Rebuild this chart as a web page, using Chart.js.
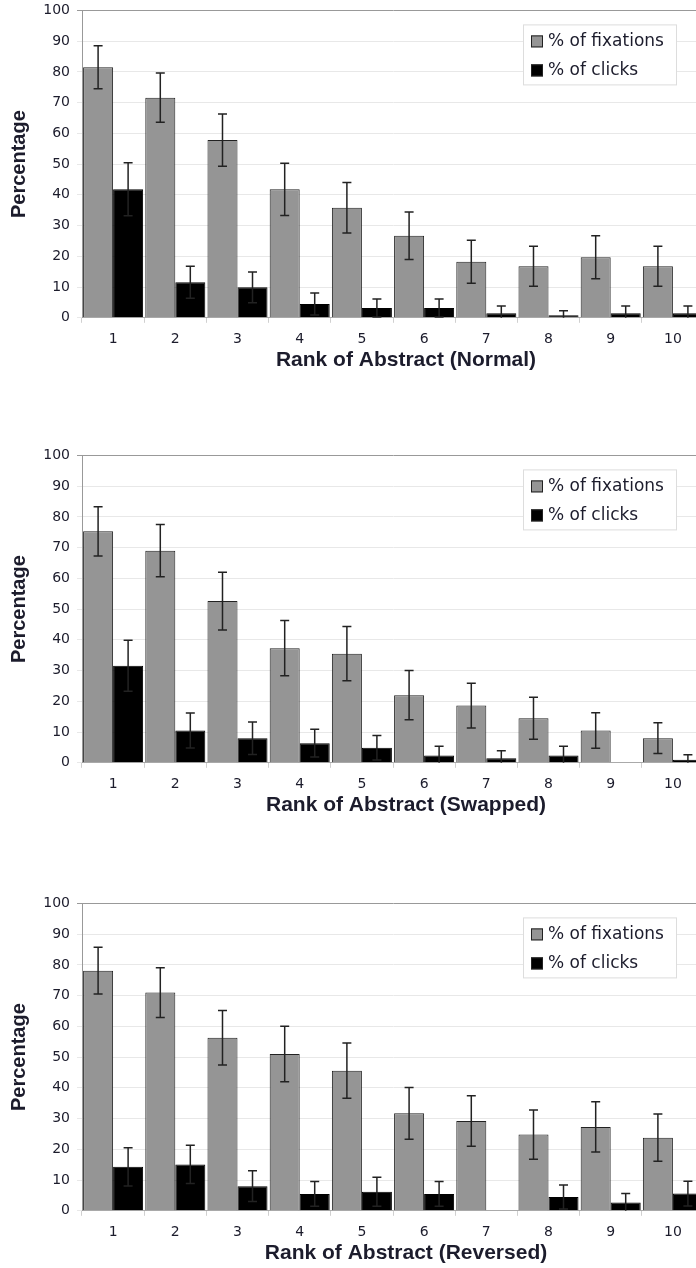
<!DOCTYPE html>
<html>
<head>
<meta charset="utf-8">
<script src="https://cdn.jsdelivr.net/npm/chart.js@4.4.0/dist/chart.umd.min.js"></script>
<style>
  html, body { margin: 0; padding: 0; background: #fff; overflow: hidden; width: 696px; height: 1268px; }
  .panel { position: absolute; left: 0; width: 812px; height: 386px; }
</style>
</head>
<body>
<div class="panel" style="top:-5px"><canvas id="chartNormal" width="812" height="386"></canvas></div>
<div class="panel" style="top:440px"><canvas id="chartSwapped" width="812" height="386"></canvas></div>
<div class="panel" style="top:888px"><canvas id="chartReversed" width="812" height="386"></canvas></div>
<script>
const ranks = ['1', '2', '3', '4', '5', '6', '7', '8', '9', '10'];
const yTicks = [0, 10, 20, 30, 40, 50, 60, 70, 80, 90, 100];

const normalFix = [81.5, 71.6, 57.8, 41.8, 35.8, 26.7, 18.2, 16.8, 19.7, 16.8];
const normalFixErr = [7, 8, 8.5, 8.5, 8.2, 7.7, 7, 6.5, 7, 6.5];
const normalClick = [41.8, 11.6, 9.9, 4.5, 3.2, 3.2, 1.5, 0.8, 1.5, 1.5];
const normalClickErr = [8.6, 5.2, 5, 3.6, 2.9, 2.9, 2.3, 1.5, 2.3, 2.3];

const swappedFix = [75.3, 69, 52.6, 37.3, 35.5, 22, 18.6, 14.5, 10.5, 8];
const swappedFixErr = [8, 8.5, 9.4, 9, 8.8, 8, 7.3, 6.8, 5.8, 5];
const swappedClick = [31.6, 10.5, 8, 6.4, 4.9, 2.4, 1.5, 2.4, 0, 1];
const swappedClickErr = [8.3, 5.7, 5.3, 4.5, 4, 3, 2.4, 3, 0, 1.6];

const reversedFix = [78.1, 71, 56.3, 51, 45.6, 31.7, 29.2, 24.8, 27.3, 23.8];
const reversedFixErr = [7.6, 8.1, 8.9, 9, 9, 8.4, 8.2, 8, 8.2, 7.7];
const reversedClick = [14.3, 15.1, 8, 5.5, 6.2, 5.5, 0, 4.5, 2.7, 5.6];
const reversedClickErr = [6.2, 6.2, 5, 4, 4.7, 4, 0, 3.9, 2.9, 4];

const textColor = '#1c1c2c';
const tickFont = { family: '"DejaVu Sans", sans-serif', size: 14 };
const titleFont = { family: '"Liberation Sans", Arial, sans-serif', size: 21, weight: 'bold' };

// error bars, drawn from each bar's value +/- its error through the y scale
const errorBarPlugin = {
  id: 'errorBars',
  afterDatasetsDraw(chart) {
    const ctx = chart.ctx;
    const y = chart.scales.y;
    ctx.save();
    ctx.strokeStyle = '#222';
    ctx.lineWidth = 1.5;
    chart.data.datasets.forEach((ds, i) => {
      const meta = chart.getDatasetMeta(i);
      meta.data.forEach((bar, j) => {
        const err = ds.errors[j];
        if (!err) {
          return;
        }
        const v = ds.data[j];
        const top = y.getPixelForValue(v + err);
        const bottom = y.getPixelForValue(Math.max(0, v - err));
        const x = bar.x;
        ctx.beginPath();
        ctx.moveTo(x, top);
        ctx.lineTo(x, bottom);
        ctx.moveTo(x - 4.5, top);
        ctx.lineTo(x + 4.5, top);
        if (v - err > 0) {
          ctx.moveTo(x - 4.5, bottom);
          ctx.lineTo(x + 4.5, bottom);
        }
        ctx.stroke();
      });
    });
    ctx.restore();
  }
};

// legend box inside the plot, top right
const boxLegendPlugin = {
  id: 'boxLegend',
  afterDraw(chart) {
    const ctx = chart.ctx;
    const area = chart.chartArea;
    const left = area.left + 441;
    const top = area.top + 14;
    ctx.save();
    ctx.fillStyle = '#fff';
    ctx.fillRect(left, top, 153, 60);
    ctx.strokeStyle = '#ddd';
    ctx.lineWidth = 1;
    ctx.strokeRect(left + 0.5, top + 0.5, 153, 60);
    ctx.font = '17px "DejaVu Sans", sans-serif';
    ctx.textBaseline = 'middle';
    chart.data.datasets.forEach((ds, i) => {
      const cy = top + 17 + i * 29;
      ctx.fillStyle = ds.backgroundColor;
      ctx.fillRect(left + 8, cy - 6, 12, 12);
      ctx.strokeStyle = '#222';
      ctx.strokeRect(left + 8.5, cy - 5.5, 11, 11);
      ctx.fillStyle = textColor;
      ctx.fillText(ds.label, left + 25, cy);
    });
    ctx.restore();
  }
};

function createDataset(label, backgroundColor, borderColor, data, errors) {
  return {
    label: label,
    backgroundColor: backgroundColor,
    borderColor: borderColor,
    borderWidth: 1,
    barPercentage: 1.0,
    categoryPercentage: 0.965,
    xAxisID: 'x',
    yAxisID: 'y',
    data: data,
    errors: errors
  };
}

function createConfig(datasets, title) {
  return {
    type: 'bar',
    data: {
      labels: ranks,
      datasets: datasets
    },
    options: {
      responsive: false,
      animation: false,
      devicePixelRatio: 1,
      layout: {
        padding: { top: 5, right: 0, bottom: 0, left: 0 }
      },
      scales: {
        x: {
          grid: { offset: true, drawOnChartArea: false, tickLength: 5, color: '#d0d0d0' },
          border: { color: '#aaa' },
          ticks: { padding: 8, color: textColor, font: tickFont },
          afterFit: (scale) => { scale.height = 30; }
        },
        y: {
          min: 0,
          max: 100,
          afterBuildTicks: (scale) => { scale.ticks = yTicks.map(v => ({ value: v })); },
          ticks: { padding: 7, color: textColor, font: tickFont },
          grid: {
            tickLength: 5,
            color: (c) => (c.tick && c.tick.value === 100) ? '#999' : '#e8e8e8'
          },
          border: { color: '#999' },
          title: {
            display: true,
            text: 'Percentage',
            color: textColor,
            font: { family: '"Liberation Sans", Arial, sans-serif', size: 20, weight: 'bold' },
            padding: { top: 7, bottom: 0 }
          },
          afterFit: (scale) => { scale.width = 82; }
        },
        // empty right-hand space, the original plot runs past the picture edge
        pad: {
          type: 'linear',
          position: 'right',
          grid: { display: false },
          ticks: { display: false },
          border: { display: false },
          afterFit: (scale) => { scale.width = 108; }
        }
      },
      plugins: {
        legend: { display: false },
        tooltip: { enabled: false },
        title: {
          display: true,
          position: 'bottom',
          text: title,
          color: textColor,
          font: titleFont,
          padding: { top: 0, bottom: 8 }
        }
      }
    },
    plugins: [errorBarPlugin, boxLegendPlugin]
  };
}

function drawChart(id, fix, fixErr, click, clickErr, title) {
  let datasets = [];
  datasets.push(createDataset('% of fixations', '#959595', '#222', fix, fixErr));
  datasets.push(createDataset('% of clicks', '#000', '#000', click, clickErr));
  let ctx = document.getElementById(id).getContext('2d');
  return new Chart(ctx, createConfig(datasets, title));
}

drawChart('chartNormal', normalFix, normalFixErr, normalClick, normalClickErr, 'Rank of Abstract (Normal)');
drawChart('chartSwapped', swappedFix, swappedFixErr, swappedClick, swappedClickErr, 'Rank of Abstract (Swapped)');
drawChart('chartReversed', reversedFix, reversedFixErr, reversedClick, reversedClickErr, 'Rank of Abstract (Reversed)');
</script>
</body>
</html>
